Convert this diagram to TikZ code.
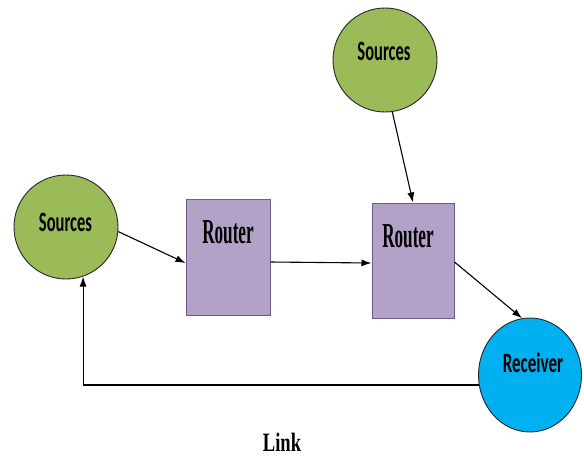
\documentclass[tikz,border=0pt]{standalone}
\usepackage{fontspec}
\usetikzlibrary{arrows.meta,calc,shapes.geometric}
\newfontfamily\srcfont[FakeStretch=0.59]{Carlito}
\newfontfamily\rcfont[FakeStretch=0.61]{Carlito}
\newfontfamily\rtfont[FakeStretch=0.49]{Liberation Serif}
\newfontfamily\lkfont[FakeStretch=0.7]{Liberation Serif}
\definecolor{srcgreen}{HTML}{9BBB59}
\definecolor{rtpurple}{HTML}{B3A2C7}
\definecolor{rtborder}{HTML}{6E5A8E}
\definecolor{rcblue}{HTML}{00B0F0}
\begin{document}
\begin{tikzpicture}[x=1pt,y=-1pt,
  srccirc/.style={circle,draw=black!85,line width=0.9pt,fill=srcgreen,minimum size=104pt,inner sep=0pt},
  rcvr/.style={ellipse,draw=black!85,line width=0.9pt,fill=rcblue,minimum width=103pt,minimum height=114pt,inner sep=0pt},
  rtbox/.style={rectangle,draw=rtborder,line width=1pt,fill=rtpurple,inner sep=0pt},
  srctxt/.style={font=\srcfont\bfseries\fontsize{28}{32}\selectfont,inner sep=0pt},
  rctxt/.style={font=\rcfont\bfseries\fontsize{28}{32}\selectfont,inner sep=0pt},
  rttxt/.style={font=\rtfont\bfseries\fontsize{35}{40}\selectfont,inner sep=0pt},
  lktxt/.style={font=\lkfont\bfseries\fontsize{26.5}{30}\selectfont,inner sep=0pt},
  arr/.style={draw=black,line width=1.1pt,-{Latex[length=10pt,width=7pt]}}
]
\useasboundingbox (0,0) rectangle (584,458);
% shapes
\node[srccirc] (s1) at (66,227) {};
\node[srccirc] (s2) at (385,60) {};
\node[rcvr] (rc) at (530,375) {};
\node[rtbox,minimum width=84pt,minimum height=116pt] (r1) at (228,257) {};
\node[rtbox,minimum width=82pt,minimum height=115pt] (r2) at (413,260.5) {};
% texts
\node[srctxt] (t1) at (65.5,222) {Sources};
\node[srctxt] (t2) at (384,51) {Sources};
\node[rctxt] (t3) at (533,363) {Receiver};
\node[rttxt] (t4) at (228,232) {Router};
\node[rttxt] (t5) at (408,236) {Router};
\node[lktxt] (lk) at (282,442) {Link};
% connectors
\draw[arr] (s1.-5) -- ($(r1.west)+(0,6)$);
\draw[arr] ($(r1.east)+(0,5)$) -- ($(r2.west)+(0,2.5)$);
\draw[arr] (s2.-82) -- (r2.north);
\draw[arr] ($(r2.east)+(0,1.5)$) -- (rc.98);
\draw[arr] ($(rc.west)+(1,10)$) -| (s1.-71);
\end{tikzpicture}
\end{document}
